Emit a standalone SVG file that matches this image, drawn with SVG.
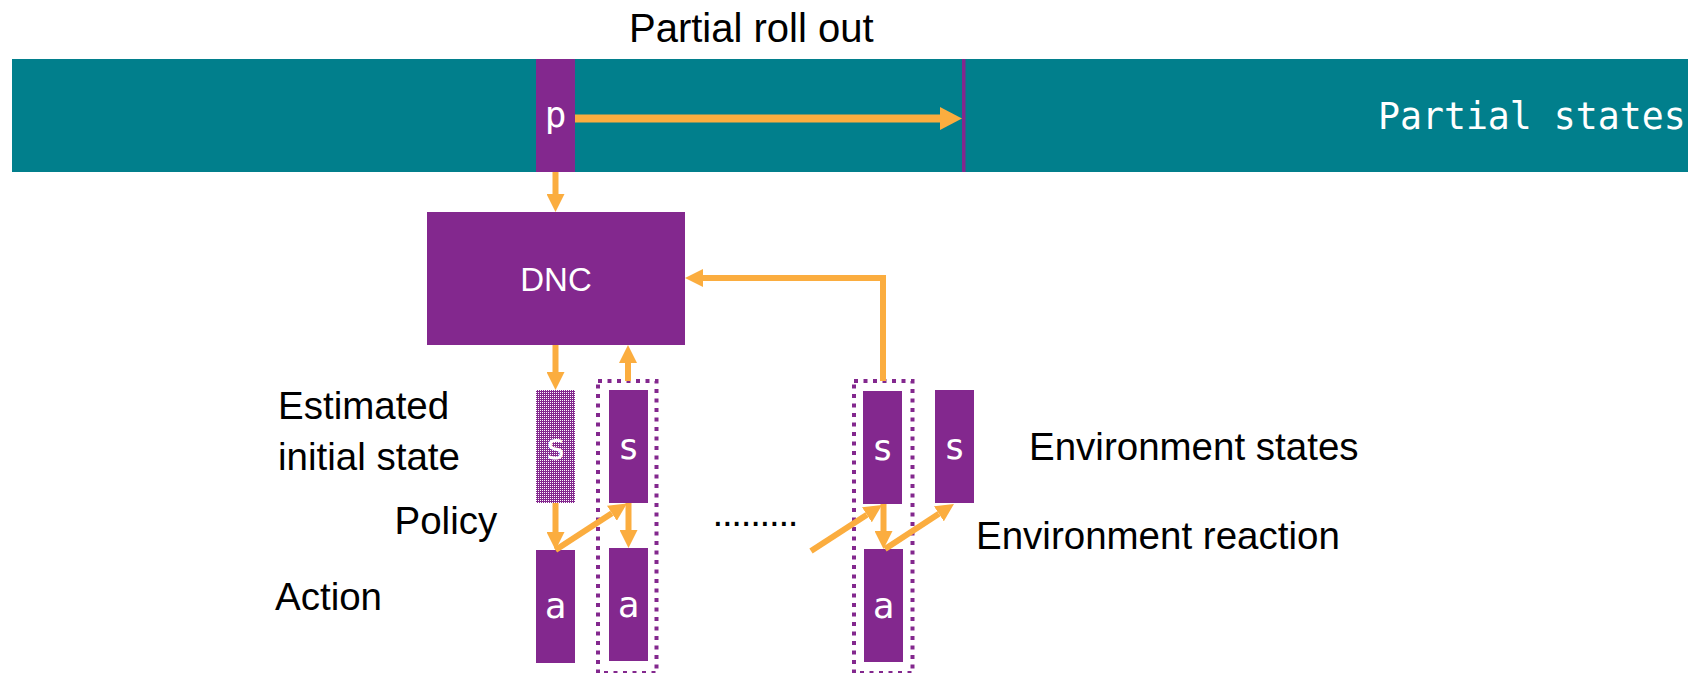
<svg xmlns="http://www.w3.org/2000/svg" width="1688" height="673" viewBox="0 0 1688 673">
  <style>
    .box { fill: #83288E; }
    .lbl { font-family: "Liberation Sans", Arial, sans-serif; font-size: 38.5px; fill: #000000; }
    .mono { font-family: "DejaVu Sans Mono", "Liberation Mono", monospace; font-size: 36px; fill: #FFFFFF; text-anchor: middle; }
    .wire { fill: none; stroke: #FBAD3F; stroke-width: 6; stroke-linejoin: miter; }
    .group { fill: none; stroke: #83288E; stroke-width: 4; stroke-dasharray: 4 5.5; }
  </style>
  <defs>
    <marker id="head" markerUnits="userSpaceOnUse" markerWidth="18" markerHeight="18" viewBox="0 0 18 18" refX="0" refY="9" orient="auto">
      <path d="M0,0 L18,9 L0,18 z" fill="#FBAD3F"/>
    </marker>
    <marker id="headBig" markerUnits="userSpaceOnUse" markerWidth="22" markerHeight="23" viewBox="0 0 22 23" refX="0" refY="11.5" orient="auto">
      <path d="M0,0 L22,11.5 L0,23 z" fill="#FBAD3F"/>
    </marker>
    <pattern id="dots" patternUnits="userSpaceOnUse" x="0" y="0" width="2" height="2">
      <rect width="2" height="2" fill="#83288E"/>
      <rect width="1" height="1" fill="#FFFFFF"/>
    </pattern>
  </defs>

  <rect width="1688" height="673" fill="#FFFFFF"/>

  <!-- title -->
  <text class="lbl" x="629" y="42" style="font-size:40px">Partial roll out</text>

  <!-- partial-state strip -->
  <g id="strip">
    <rect x="12" y="59" width="1676" height="113" fill="#017F8C"/>
    <rect x="962" y="59" width="3.5" height="113" class="box"/>
    <text x="1378" y="129" font-family="'DejaVu Sans Mono', 'Liberation Mono', monospace" font-size="36.5" fill="#FFFFFF">Partial states</text>
  </g>

  <g id="node-p">
    <rect class="box" x="536" y="59" width="39" height="113"/>
    <text class="mono" x="555.5" y="127">p</text>
  </g>

  <g id="node-dnc">
    <rect class="box" x="427" y="212" width="258" height="133"/>
    <text x="556" y="291" font-family="'Liberation Sans', Arial, sans-serif" font-size="33" fill="#FFFFFF" text-anchor="middle">DNC</text>
  </g>

  <!-- state / action columns -->
  <g id="node-s0">
    <rect x="536" y="390" width="39" height="113" fill="url(#dots)"/>
    <text class="mono" x="555.5" y="459">s</text>
  </g>
  <g id="node-a0">
    <rect class="box" x="536" y="550" width="39" height="113"/>
    <text class="mono" x="555.5" y="618">a</text>
  </g>

  <g id="node-step1">
    <rect class="group" x="598" y="381" width="58.5" height="292"/>
    <g id="node-s1">
      <rect class="box" x="609" y="390" width="39" height="113"/>
      <text class="mono" x="628.5" y="459">s</text>
    </g>
    <g id="node-a1">
      <rect class="box" x="609" y="548" width="39" height="113"/>
      <text class="mono" x="628.5" y="617">a</text>
    </g>
  </g>

  <g id="node-step2">
    <rect class="group" x="854" y="381" width="58.5" height="292"/>
    <g id="node-s2">
      <rect class="box" x="863" y="391" width="39" height="113"/>
      <text class="mono" x="882.5" y="460">s</text>
    </g>
    <g id="node-a2">
      <rect class="box" x="864" y="549" width="39" height="113"/>
      <text class="mono" x="883.5" y="618">a</text>
    </g>
  </g>

  <g id="node-s3">
    <rect class="box" x="935" y="390" width="39" height="113"/>
    <text class="mono" x="954.5" y="459">s</text>
  </g>

  <!-- side labels -->
  <g id="labels">
    <text class="lbl" x="278" y="419">Estimated</text>
    <text class="lbl" x="278" y="470">initial state</text>
    <text class="lbl" x="394.5" y="534">Policy</text>
    <text class="lbl" x="275" y="610">Action</text>
    <text class="lbl" x="712.5" y="526" textLength="86" lengthAdjust="spacing">.........</text>
    <text class="lbl" x="1029" y="460">Environment states</text>
    <text class="lbl" x="976" y="549">Environment reaction</text>
  </g>

  <!-- connectors -->
  <g id="connectors">
    <line class="wire" x1="575" y1="118.5" x2="940" y2="118.5" style="stroke-width:8" marker-end="url(#headBig)"/>
    <line class="wire" x1="555.5" y1="172" x2="555.5" y2="194" marker-end="url(#head)"/>
    <line class="wire" x1="555.5" y1="345" x2="555.5" y2="372" marker-end="url(#head)"/>
    <line class="wire" x1="628" y1="381" x2="628" y2="363" marker-end="url(#head)"/>
    <line class="wire" x1="555.5" y1="503" x2="555.5" y2="532" marker-end="url(#head)"/>
    <line class="wire" x1="628.5" y1="503" x2="628.5" y2="530" marker-end="url(#head)"/>
    <line class="wire" x1="883.5" y1="504" x2="883.5" y2="531" marker-end="url(#head)"/>
    <line class="wire" x1="555.5" y1="550" x2="611.9" y2="513.3" marker-end="url(#head)"/>
    <line class="wire" x1="811" y1="551" x2="866.9" y2="514.8" marker-end="url(#head)"/>
    <line class="wire" x1="885" y1="549" x2="938.9" y2="513.8" marker-end="url(#head)"/>
    <path class="wire" d="M883,381 V278 H703" marker-end="url(#head)"/>
  </g>
</svg>
